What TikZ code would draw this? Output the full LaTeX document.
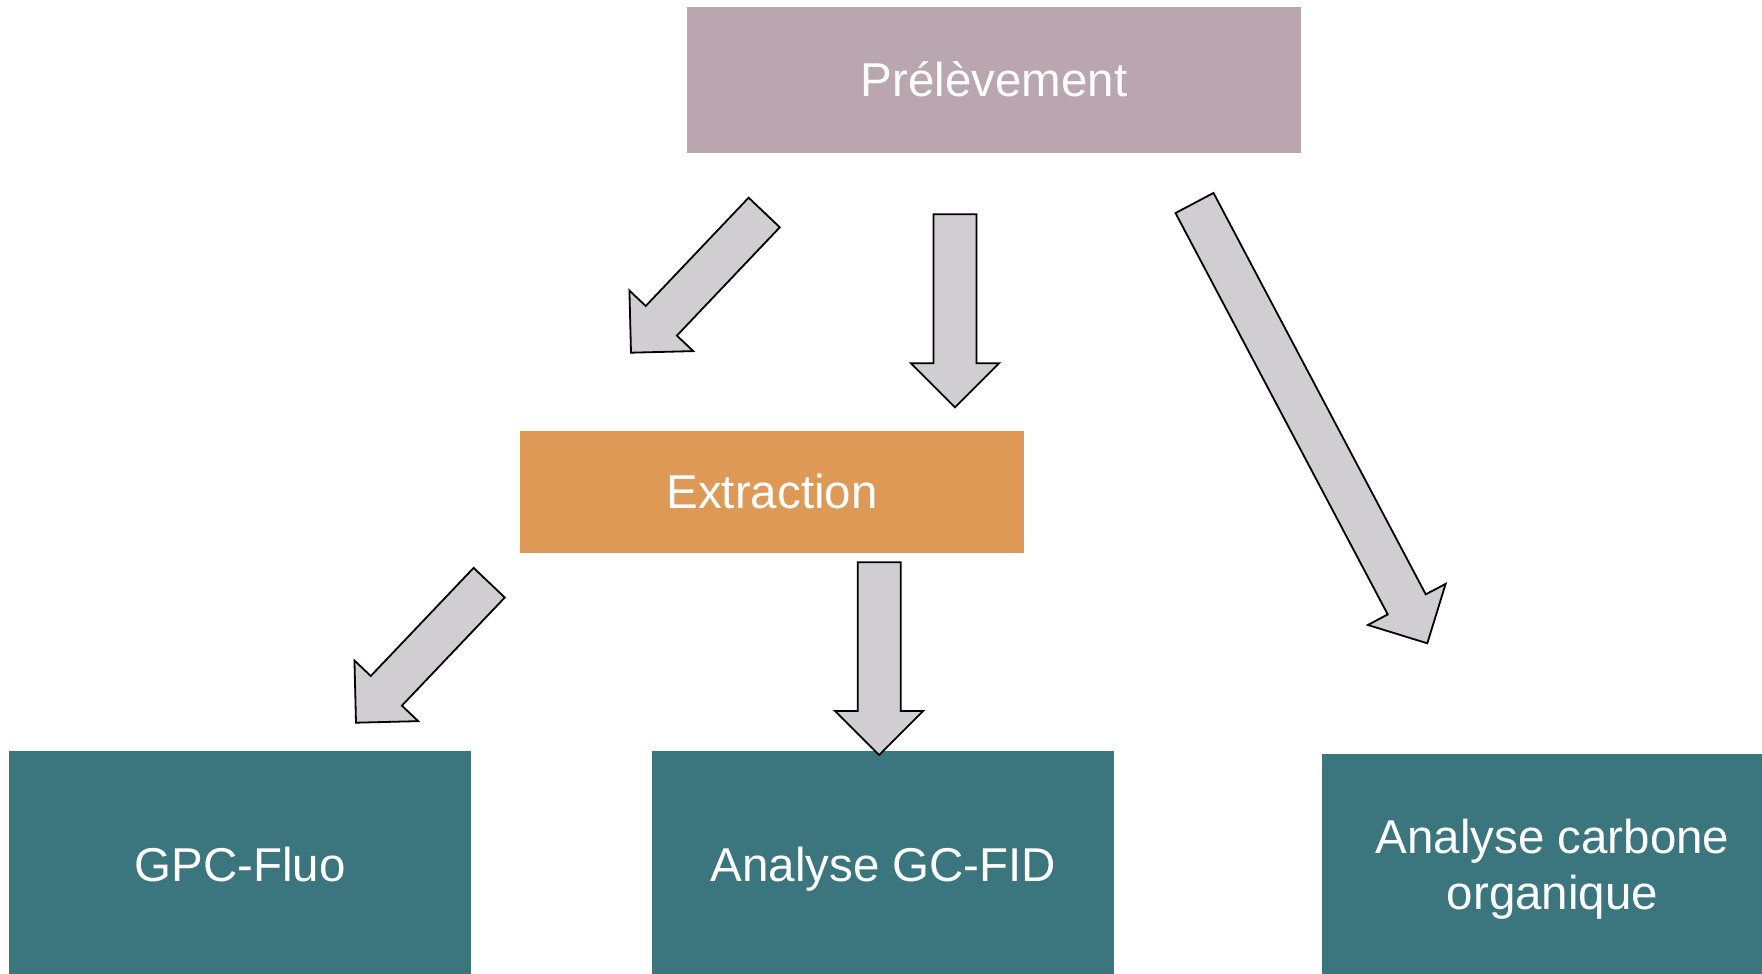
\documentclass[tikz,border=0pt]{standalone}
\usepackage{fontspec}
\setmainfont{Liberation Sans}
\usepackage{tikz}
\usetikzlibrary{calc, positioning}

\definecolor{mauve}{RGB}{186,166,175}
\definecolor{ochre}{RGB}{222,153,87}
\definecolor{petrol}{RGB}{59,118,126}
\definecolor{arrowgray}{RGB}{208,206,208}

% block arrow from tail (#1) to tip (#2)
\newcommand{\blockarrow}[2]{%
  \coordinate (neck) at ($(#2)!44pt!(#1)$);
  \filldraw[blk] ($(#1)!21.5pt!90:(#2)$) -- ($(neck)!21.5pt!90:(#2)$)
    -- ($(neck)!44pt!90:(#2)$) -- (#2) -- ($(neck)!44pt!-90:(#2)$)
    -- ($(neck)!21.5pt!-90:(#2)$) -- ($(#1)!21.5pt!-90:(#2)$) -- cycle;}

\begin{document}
\begin{tikzpicture}[x=1pt, y=-1pt,
  box/.style={inner sep=0pt, align=center, text=white,
              font=\fontsize{47.5}{56}\selectfont},
  oneline/.style={text height=35pt, text depth=1pt},
  top/.style={box, oneline, fill=mauve, minimum width=614.7pt, minimum height=146pt},
  mid/.style={box, oneline, fill=ochre, minimum width=503.4pt, minimum height=122pt},
  leaf/.style={box, fill=petrol, minimum width=462pt, minimum height=226pt},
  blk/.style={fill=arrowgray, draw=black, line width=1.8pt}]
\useasboundingbox (0,0) rectangle (1762,974);
\clip (0,0) rectangle (1762,974);
\node[top] (pre) at (994,79.7) {Prélèvement};
\node[mid] (ext) at (772,491.5) {Extraction};
\node[leaf, oneline] (gpc) at (240,864) {GPC-Fluo};
\node[leaf, oneline, right=181pt of gpc] (gcfid) {Analyse GC-FID};
\node[leaf, minimum height=230pt] (carbone) at (1552.5,869) {Analyse carbone\\organique};
\coordinate (pre-out1) at (764.2,212.5);
\coordinate (ext-in1) at (631,352.7);
\coordinate (pre-out2) at (955,214.3);
\coordinate (ext-in2) at (955,407.3);
\coordinate (pre-out3) at (1194.5,203);
\coordinate (carbone-in) at (1427.3,643.3);
\coordinate (ext-out1) at (489.2,582.7);
\coordinate (gpc-in) at (356,722.7);
\coordinate (ext-out2) at (879.2,562.3);
\coordinate (gcfid-in) at (879.2,755);
\blockarrow{pre-out1}{ext-in1}
\blockarrow{pre-out2}{ext-in2}
\blockarrow{pre-out3}{carbone-in}
\blockarrow{ext-out1}{gpc-in}
\blockarrow{ext-out2}{gcfid-in}
\end{tikzpicture}
\end{document}
